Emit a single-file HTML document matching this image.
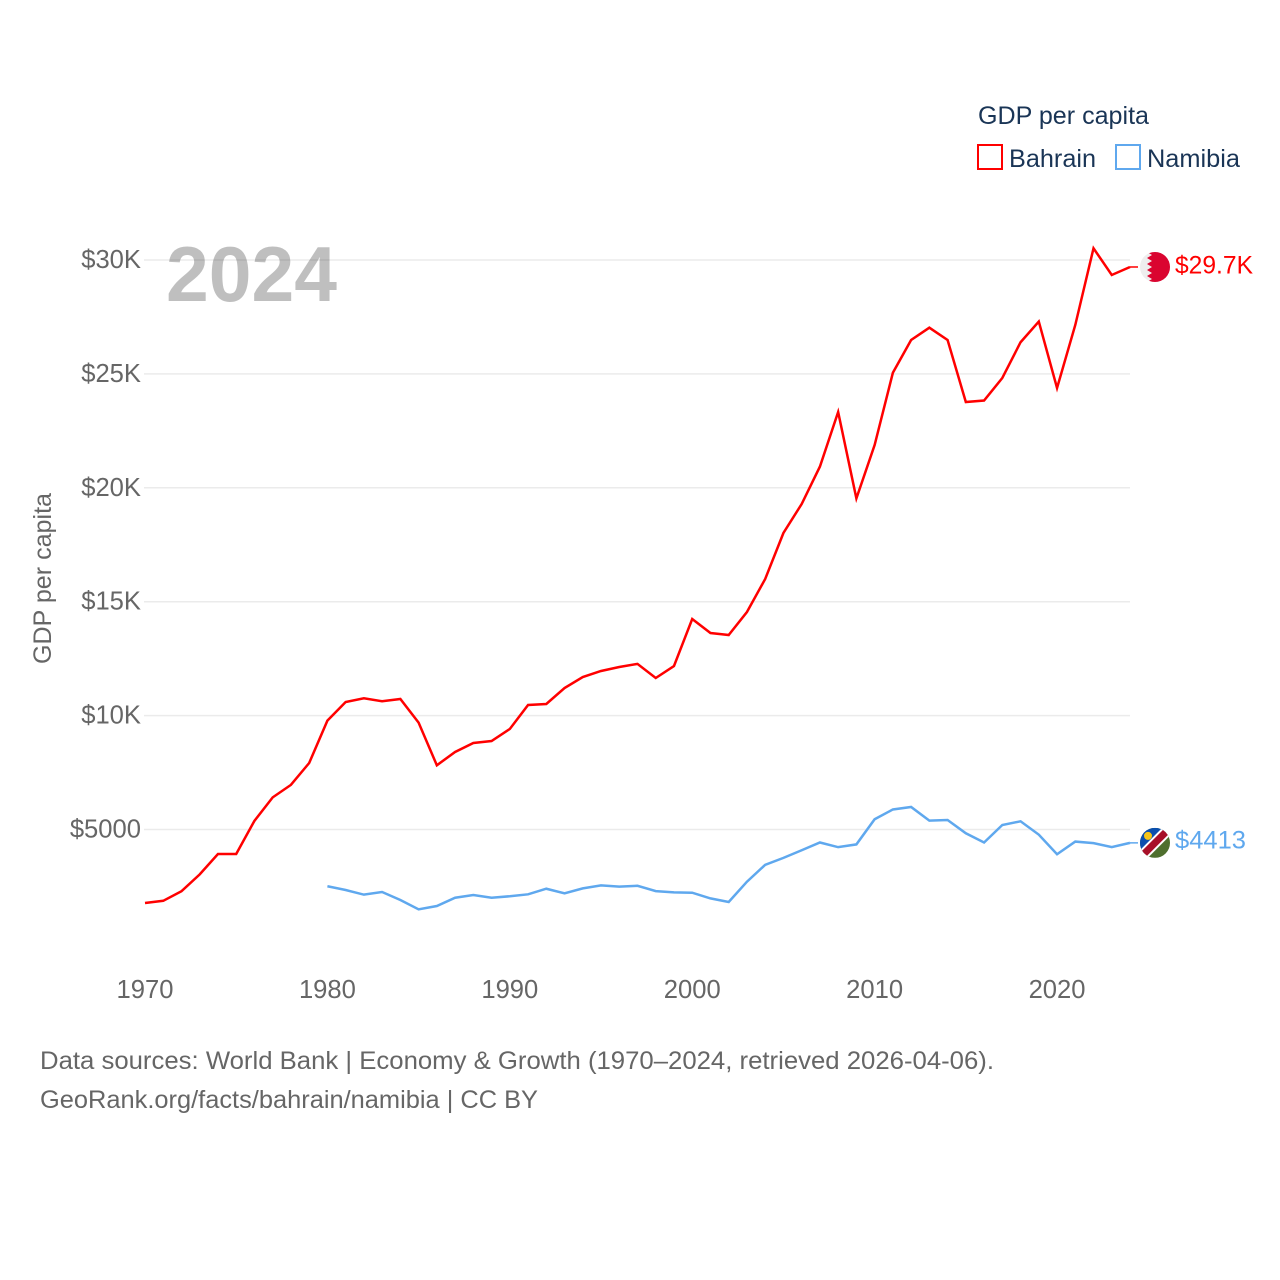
<!DOCTYPE html>
<html lang="en">
<head>
<meta charset="utf-8">
<title>GDP per capita: Bahrain and Namibia</title>
<style>
  html, body { margin: 0; padding: 0; background: #fff; }
  svg { display: block; font-family: "Liberation Sans", sans-serif; }
</style>
</head>
<body>
<svg id="chart" width="1280" height="1280" viewBox="0 0 1280 1280" xmlns="http://www.w3.org/2000/svg">
  <defs>
    <clipPath id="bahrain-clip"><circle id="bahrain-clip-circle" cx="15" cy="15" r="15"></circle></clipPath>
    <clipPath id="namibia-clip"><circle id="namibia-clip-circle" cx="15" cy="15" r="15"></circle></clipPath>
  </defs>
  <rect x="0" y="0" width="1280" height="1280" fill="#ffffff"></rect>

  <g id="grid"></g>
  <g id="y-ticks"></g>
  <g id="x-ticks"></g>

  <text x="166" y="301" font-size="78" font-weight="700" fill="#000000" fill-opacity="0.25" textLength="171" lengthAdjust="spacingAndGlyphs">2024</text>

  <text transform="translate(51 664) rotate(-90)" font-size="25" fill="#666666" textLength="171" lengthAdjust="spacingAndGlyphs">GDP per capita</text>

  <g id="series"></g>

  <g id="flag-bahrain">
    <g clip-path="url(#bahrain-clip)">
      <rect x="0" y="0" width="30" height="30" fill="#eeeeee"></rect>
      <polygon points="7,0 30,0 30,30 7,30 12,27 7,24 12,21 7,18 12,15 7,12 12,9 7,6 12,3" fill="#da0530"></polygon>
    </g>
  </g>
  <g id="flag-namibia">
    <g clip-path="url(#namibia-clip)">
      <rect x="0" y="0" width="30" height="30" fill="#4f6f2e"></rect>
      <polygon points="0,0 30,0 0,30" fill="#0a4fae"></polygon>
      <line x1="0" y1="30" x2="30" y2="0" stroke="#ffffff" stroke-width="11"></line>
      <line x1="0" y1="30" x2="30" y2="0" stroke="#a81028" stroke-width="7"></line>
      <circle cx="8" cy="8" r="4" fill="#f5c518"></circle>
    </g>
  </g>

  <text id="label-bahrain" x="1175" font-size="25" fill="#ff0000" textLength="78" lengthAdjust="spacingAndGlyphs">$29.7K</text>
  <text id="label-namibia" x="1175" font-size="25" fill="#5fa8ee" textLength="71" lengthAdjust="spacingAndGlyphs">$4413</text>

  <g>
    <text x="978" y="124" font-size="25" fill="#1a3556" textLength="171" lengthAdjust="spacingAndGlyphs">GDP per capita</text>
    <g>
      <rect x="978" y="145" width="24" height="24" fill="#ffffff" stroke="#ff0000" stroke-width="2"></rect>
      <text x="1009" y="167" font-size="25" fill="#1a3556" textLength="87" lengthAdjust="spacingAndGlyphs">Bahrain</text>
    </g>
    <g>
      <rect x="1116" y="145" width="24" height="24" fill="#ffffff" stroke="#5fa8ee" stroke-width="2"></rect>
      <text x="1147" y="167" font-size="25" fill="#1a3556" textLength="93" lengthAdjust="spacingAndGlyphs">Namibia</text>
    </g>
  </g>

  <text x="40" y="1069" font-size="25" fill="#666666" textLength="954" lengthAdjust="spacingAndGlyphs">Data sources: World Bank | Economy &amp; Growth (1970–2024, retrieved 2026-04-06).</text>
  <text x="40" y="1108" font-size="25" fill="#666666" textLength="498" lengthAdjust="spacingAndGlyphs">GeoRank.org/facts/bahrain/namibia | CC BY</text>
</svg>

<script>
const bahrainStartYear = 1970;
const bahrainValues = [1773, 1870, 2290, 3030, 3924, 3924, 5380, 6410, 6960, 7919, 9780, 10597, 10760, 10630, 10729, 9690, 7820, 8402, 8797, 8885, 9412, 10465, 10509, 11211, 11694, 11958, 12133, 12270, 11650, 12177, 14240, 13626, 13538, 14548, 15996, 18016, 19289, 20930, 23328, 19535, 21879, 25050, 26488, 27030, 26488, 23766, 23830, 24820, 26390, 27300, 24381, 27147, 30515, 29342, 29693];
const namibiaStartYear = 1980;
const namibiaValues = [2510, 2344, 2140, 2256, 1905, 1495, 1642, 2005, 2125, 2005, 2070, 2155, 2400, 2200, 2415, 2545, 2490, 2530, 2295, 2240, 2225, 1975, 1817, 2708, 3450, 3755, 4090, 4430, 4225, 4345, 5450, 5880, 5988, 5390, 5417, 4835, 4430, 5197, 5360, 4775, 3915, 4470, 4400, 4225, 4413];
const yTickValues = [5000, 10000, 15000, 20000, 25000, 30000];
const yTickLabels = ['$5000', '$10K', '$15K', '$20K', '$25K', '$30K'];
const xTickYears = [1970, 1980, 1990, 2000, 2010, 2020];
const xTickLabels = ['1970', '1980', '1990', '2000', '2010', '2020'];

const SVG_NS = 'http://www.w3.org/2000/svg';

function xScale(year) {
  return 145 + (year - 1970) * (1130 - 145) / 54;
}
function yScale(value) {
  return 943.4 - value * 0.02278;
}
function make(tag, parent) {
  const el = document.createElementNS(SVG_NS, tag);
  parent.appendChild(el);
  return el;
}

const gridGroup = document.getElementById('grid');
const yGroup = document.getElementById('y-ticks');
yTickValues.forEach(function (value, i) {
  const line = make('line', gridGroup);
  
  
  line.setAttribute('x1', 144);
  line.setAttribute('x2', 1130);
  line.setAttribute('y1', yScale(value));
  line.setAttribute('y2', yScale(value));
  line.setAttribute('stroke', '#ebebeb');
  line.setAttribute('stroke-width', 1.5);

  const label = make('text', yGroup);
  
  
  label.setAttribute('x', 141);
  label.setAttribute('y', yScale(value) + 8);
  label.setAttribute('text-anchor', 'end');
  label.setAttribute('font-size', 25.6);
  label.setAttribute('fill', '#666666');
  label.textContent = yTickLabels[i];
});

const xGroup = document.getElementById('x-ticks');
xTickYears.forEach(function (year, i) {
  const label = make('text', xGroup);
  
  
  label.setAttribute('x', xScale(year));
  label.setAttribute('y', 998);
  label.setAttribute('text-anchor', 'middle');
  label.setAttribute('font-size', 25.6);
  label.setAttribute('fill', '#666666');
  label.textContent = xTickLabels[i];
});

function drawSeries(name, startYear, values, color, labelOffset) {
  const group = document.getElementById('series');
  const pts = values.map(function (v, i) {
    return xScale(startYear + i).toFixed(2) + ',' + yScale(v).toFixed(2);
  });
  const line = make('polyline', group);
  
  
  line.setAttribute('points', pts.join(' '));
  line.setAttribute('fill', 'none');
  line.setAttribute('stroke', color);
  line.setAttribute('stroke-width', 2.5);
  line.setAttribute('stroke-linejoin', 'miter');

  const lastY = yScale(values[values.length - 1]);
  const lastX = xScale(startYear + values.length - 1);
  const leader = make('line', group);
  
  
  leader.setAttribute('x1', lastX);
  leader.setAttribute('x2', lastX + 8);
  leader.setAttribute('y1', lastY);
  leader.setAttribute('y2', lastY);
  leader.setAttribute('stroke', color);
  leader.setAttribute('stroke-width', 1.5);

  document.getElementById('flag-' + name).setAttribute('transform', 'translate(' + (lastX + 10) + ' ' + (lastY - 15) + ')');
  document.getElementById('label-' + name).setAttribute('y', lastY + labelOffset);
}

drawSeries('bahrain', bahrainStartYear, bahrainValues, '#ff0000', 6.5);
drawSeries('namibia', namibiaStartYear, namibiaValues, '#5fa8ee', 5.5);
</script>
</body>
</html>
